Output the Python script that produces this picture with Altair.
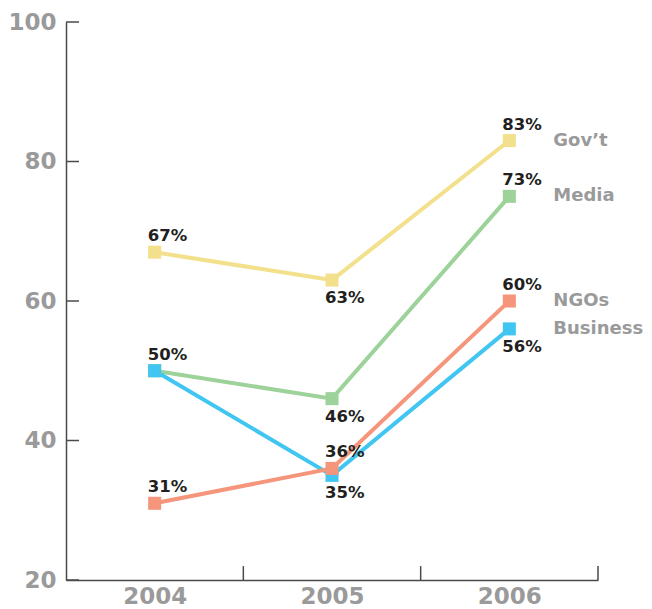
import altair as alt
import pandas as pd

years = [2004, 2005, 2006]
series = ["Gov’t", "Media", "Business", "NGOs"]
colors = ["#F3E08C", "#9DD29A", "#41C6F1", "#F5957B"]

govt = [67, 63, 83]
media = [50, 46, 75]
business = [50, 35, 56]
ngos = [31, 36, 60]

govt_labels = ["67%", "63%", "83%"]
media_labels = ["50%", "46%", "73%"]
business_labels = ["", "35%", "56%"]
ngos_labels = ["31%", "36%", "60%"]

govt_pos = ["above", "below", "above"]
media_pos = ["above", "below", "above"]
business_pos = ["above", "below", "below"]
ngos_pos = ["above", "above", "above"]

y_ticks = [20, 40, 60, 80, 100]
x_boundaries = [2004.5, 2005.5, 2006.5]

rows = []
for z, (name, vals, labs, pos) in enumerate([
    ("Gov’t", govt, govt_labels, govt_pos),
    ("Media", media, media_labels, media_pos),
    ("Business", business, business_labels, business_pos),
    ("NGOs", ngos, ngos_labels, ngos_pos),
]):
    for yr, v, lab, p in zip(years, vals, labs, pos):
        rows.append({"series": name, "year": yr, "value": v, "label": lab, "pos": p, "z": z})
df = pd.DataFrame(rows)

FONT = "DejaVu Sans"
GRAY = "#9a9a9b"
AXIS = "#4a4a4a"

xscale = alt.Scale(domain=[2003.5, 2006.5], nice=False, zero=False)
yscale = alt.Scale(domain=[20, 100], nice=False, zero=False)
color = alt.Color("series:N", scale=alt.Scale(domain=series, range=colors), legend=None)

xaxis = alt.Axis(values=years, format="d", ticks=False, grid=False, title=None,
                 domainColor=AXIS, domainWidth=1.5,
                 labelFont=FONT, labelFontSize=23, labelFontWeight="bold",
                 labelColor=GRAY, labelPadding=5)
yaxis = alt.Axis(values=y_ticks, ticks=False, grid=False, title=None,
                 domainColor=AXIS, domainWidth=1.5,
                 labelFont=FONT, labelFontSize=23, labelFontWeight="bold",
                 labelColor=GRAY, labelPadding=10)

base = alt.Chart(df)

lines = base.mark_line(strokeWidth=4).encode(
    x=alt.X("year:Q", scale=xscale, axis=xaxis),
    y=alt.Y("value:Q", scale=yscale, axis=yaxis),
    color=color,
    detail="series:N",
    order="year:Q",
)

points = base.mark_square(size=170, opacity=1).encode(
    x=alt.X("year:Q", scale=xscale),
    y=alt.Y("value:Q", scale=yscale),
    color=color,
    order="z:Q",
)

lab_common = dict(align="left", font=FONT, fontSize=16.5, fontWeight="bold", color="#231f20", dx=-7)
above = base.transform_filter("datum.pos == 'above'").mark_text(baseline="bottom", dy=-8, **lab_common).encode(
    x=alt.X("year:Q", scale=xscale), y=alt.Y("value:Q", scale=yscale), text="label:N")
below = base.transform_filter("datum.pos == 'below'").mark_text(baseline="top", dy=10, **lab_common).encode(
    x=alt.X("year:Q", scale=xscale), y=alt.Y("value:Q", scale=yscale), text="label:N")

names = base.transform_filter("datum.year == 2006").mark_text(
    align="left", baseline="middle", dx=44, font=FONT, fontSize=18, fontWeight="bold", color=GRAY
).encode(x=alt.X("year:Q", scale=xscale), y=alt.Y("value:Q", scale=yscale), text="series:N")

xt = alt.Chart(pd.DataFrame({"b": x_boundaries})).mark_rule(color=AXIS, strokeWidth=1.5).encode(
    x=alt.X("b:Q", scale=xscale), y=alt.datum(20, scale=yscale), y2=alt.datum(22))
yt = alt.Chart(pd.DataFrame({"t": y_ticks})).mark_rule(color=AXIS, strokeWidth=1.5).encode(
    y=alt.Y("t:Q", scale=yscale), x=alt.value(0), x2=alt.value(13))

chart = alt.layer(xt, yt, lines, points, above, below, names).properties(
    width=532, height=558,
    autosize=alt.AutoSizeParams(type="none"),
    padding={"left": 58, "top": 14, "right": 46, "bottom": 28},
).configure_view(stroke=None)

chart.save("out.html", embed_options={"renderer": "svg", "actions": False})
